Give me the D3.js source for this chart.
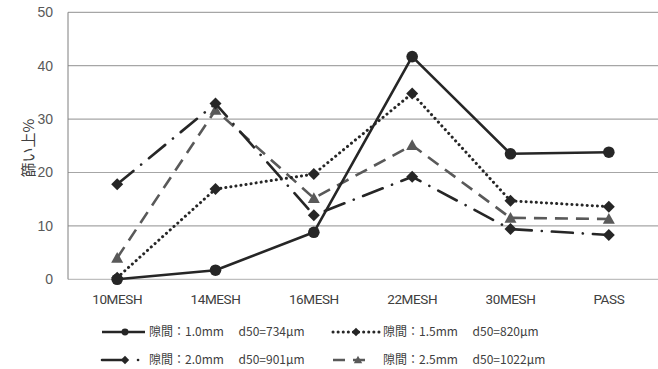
<!DOCTYPE html>
<html>
<head>
<meta charset="utf-8">
<script src="https://cdn.jsdelivr.net/npm/d3@7"></script>
<style>
  html, body { margin: 0; padding: 0; background: #fff; }
  svg { display: block; }
  text { font-family: "Noto Sans CJK JP", "Noto Sans", sans-serif; }
</style>
</head>
<body>
<svg id="chart" width="658" height="369"></svg>
<script>
// Sieve fractions (%) retained on each mesh, for four gap settings
const categories = ["10MESH", "14MESH", "16MESH", "22MESH", "30MESH", "PASS"];
const yTicks = [0, 10, 20, 30, 40, 50];

const gap10 = [0.0, 1.7, 8.8, 41.7, 23.5, 23.8];
const gap15 = [0.3, 16.9, 19.7, 34.8, 14.7, 13.6];
const gap20 = [17.8, 32.9, 12.0, 19.2, 9.4, 8.3];
const gap25 = [4.0, 31.7, 15.2, 25.1, 11.5, 11.3];

const seriesNames = [
  "隙間：1.0mm　 d50=734μm",
  "隙間：1.5mm　 d50=820μm",
  "隙間：2.0mm　 d50=901μm",
  "隙間：2.5mm　 d50=1022μm"
];

const series = [
  { name: seriesNames[0], values: gap10, color: "#262626", dash: null, marker: "circle", width: 2.6 },
  { name: seriesNames[1], values: gap15, color: "#262626", dash: "0.1,5", marker: "diamond", cap: "round", width: 3 },
  { name: seriesNames[2], values: gap20, color: "#262626", dash: "21,10,0.1,10", marker: "diamond", cap: "round", width: 2.6 },
  { name: seriesNames[3], values: gap25, color: "#595959", dash: "13,8", marker: "triangle", width: 2.6 }
];

const svg = d3.select("#chart");

const x = d3.scaleBand().domain(categories).range([68, 658]);
const y = d3.scaleLinear().domain([0, 50]).range([279.3, 12.3]);

// horizontal gridlines
svg.append("g")
  .selectAll("line")
  .data(yTicks)
  .join("line")
  .attr("x1", 68).attr("x2", 658)
  .attr("y1", d => y(d)).attr("y2", d => y(d))
  .attr("stroke", d => d === 0 ? "#bfbfbf" : "#a6a6a6")
  .attr("stroke-width", 1.2);

// left axis line
svg.append("line")
  .attr("x1", 68).attr("x2", 68)
  .attr("y1", y(50)).attr("y2", y(0))
  .attr("stroke", "#7f7f7f").attr("stroke-width", 1);

// y tick labels
const yAxis = d3.axisLeft(y).tickValues(yTicks).tickSize(0).tickPadding(15);
const gy = svg.append("g").attr("transform", "translate(68,0)").call(yAxis);
gy.select(".domain").remove();
gy.selectAll("text")
  .attr("font-size", 14)
  .attr("fill", "#595959")
  .style("font-family", "'Liberation Sans', Arial, sans-serif");

// x tick labels
const xAxis = d3.axisBottom(x).tickSize(0).tickPadding(15);
const gx = svg.append("g").attr("transform", `translate(0,${y(0)})`).call(xAxis);
gx.select(".domain").remove();
gx.selectAll("text")
  .attr("font-size", 13.5)
  .attr("fill", "#404040")
  .style("font-family", "Roboto, 'Liberation Sans', sans-serif")
  .attr("letter-spacing", "-0.4");

// y axis title
svg.append("text")
  .attr("transform", "translate(29,148) rotate(-90)")
  .attr("text-anchor", "middle")
  .attr("dy", "0.35em")
  .attr("font-size", 15)
  .attr("fill", "#404040")
  .text("篩い上%");

const cx = d => x(d) + x.bandwidth() / 2;

function drawMarker(g, type, px, py, color) {
  if (type === "circle") {
    g.append("circle").attr("cx", px).attr("cy", py).attr("r", 5.8).attr("fill", color);
  } else if (type === "diamond") {
    const s = 6;
    g.append("path")
      .attr("d", `M${px},${py - s}L${px + s},${py}L${px},${py + s}L${px - s},${py}Z`)
      .attr("fill", color);
  } else if (type === "triangle") {
    const s = 6;
    g.append("path")
      .attr("d", `M${px},${py - s}L${px + s},${py + s * 0.8}L${px - s},${py + s * 0.8}Z`)
      .attr("fill", color);
  }
}

const line = d3.line().x((d, i) => cx(categories[i])).y(d => y(d));

// draw series (last first so the solid line sits on top)
[3, 2, 1, 0].forEach(k => {
  const s = series[k];
  const g = svg.append("g");
  g.append("path")
    .datum(s.values)
    .attr("d", line)
    .attr("fill", "none")
    .attr("stroke", s.color)
    .attr("stroke-width", s.width)
    .attr("stroke-linecap", s.cap || "butt")
    .attr("stroke-linejoin", "round")
    .attr("stroke-dasharray", s.dash);
  s.values.forEach((v, i) => drawMarker(g, s.marker, cx(categories[i]), y(v), s.color));
});

// legend
const legendPos = [
  { x: 102, y: 332, len: 43 }, { x: 333, y: 332, len: 47 },
  { x: 102, y: 360, len: 40 }, { x: 333, y: 360, len: 39 }
];
const legendDash = [null, "0.1,5", "23,13,0.1,13", "12,8"];
series.forEach((s, k) => {
  const p = legendPos[k];
  const g = svg.append("g");
  g.append("line")
    .attr("x1", p.x).attr("x2", p.x + p.len)
    .attr("y1", p.y).attr("y2", p.y)
    .attr("stroke", s.color)
    .attr("stroke-width", s.width)
    .attr("stroke-linecap", s.cap || "butt")
    .attr("stroke-dasharray", legendDash[k]);
  const mx = p.x + (k === 3 ? 25 : 23);
  const sc = s.marker === "circle" ? 0.6 : 0.7;
  const gm = g.append("g").attr("transform", `translate(${mx},${p.y}) scale(${sc}) translate(${-mx},${-p.y})`);
  drawMarker(gm, s.marker, mx, p.y, s.color);
  g.append("text")
    .attr("x", p.x + (k % 2 === 0 ? 47 : 50)).attr("y", p.y)
    .attr("dy", "0.35em")
    .attr("font-size", 12)
    .attr("fill", "#404040")
    .text(s.name);
});
</script>
</body>
</html>
